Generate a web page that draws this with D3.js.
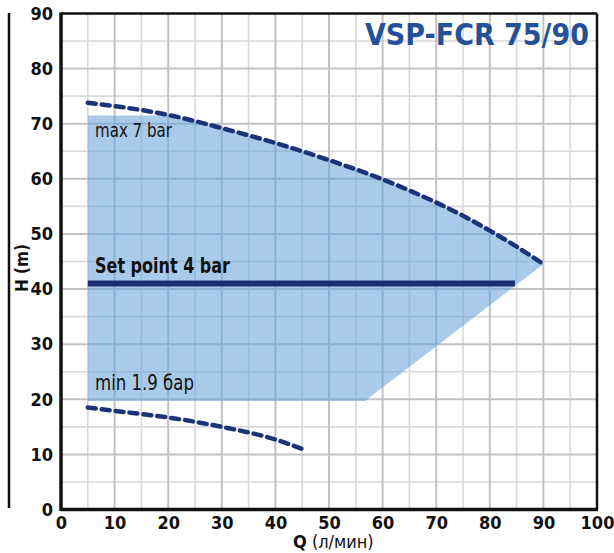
<!DOCTYPE html>
<html><head><meta charset="utf-8">
<script src="https://cdn.jsdelivr.net/npm/d3@7"></script>
<style>
body{margin:0;background:#fff;}
svg{display:block;}
</style></head>
<body><svg id="c" width="614" height="553"></svg>
<script>
const xTicks = [0,10,20,30,40,50,60,70,80,90,100];
const yTicks = [0,10,20,30,40,50,60,70,80,90];
const maxQ = [5,10,20,30,40,50,60,70,75,80,85,90];
const maxH = [73.8,73.2,71.6,69.2,66.5,63.4,59.9,55.7,53.3,50.6,47.7,44.5];
const minQ = [5,10,20,30,40,45];
const minH = [18.5,17.9,16.7,15.0,12.7,11.0];
const areaTopLimit = 71.5;
const areaBottom = [[5,19.7],[56.7,19.7],[90,44.5]];
const setPoint = {qStart:5, qEnd:84.7, h:41};
const title = "VSP-FCR 75/90";
const labels = {max:"max 7 bar", min:"min 1.9 бар", set:"Set point 4 bar", x:"Q", xUnit:" (л/мин)", y:"H (m)"};

const svg = d3.select("#c");
const x = d3.scaleLinear().domain([0,100]).range([61,597]);
const y = d3.scaleLinear().domain([0,90]).range([509.5,13.5]);
const cond = "'Liberation Sans Narrow','DejaVu Sans Condensed','Roboto Condensed','Open Sans Condensed',Roboto,sans-serif";

// grid
const minorX = d3.range(5,100,10), minorY = d3.range(5,90,10);
const g = svg.append("g");
g.selectAll(".mx").data(minorX).join("line").attr("x1",d=>x(d)).attr("x2",d=>x(d)).attr("y1",y(0)).attr("y2",y(90)).attr("stroke","#d9d9db").attr("stroke-width",1.6);
g.selectAll(".my").data(minorY).join("line").attr("y1",d=>y(d)).attr("y2",d=>y(d)).attr("x1",x(0)).attr("x2",x(100)).attr("stroke","#d9d9db").attr("stroke-width",1.6);
g.selectAll(".Mx").data(xTicks.slice(1,-1)).join("line").attr("x1",d=>x(d)).attr("x2",d=>x(d)).attr("y1",y(0)).attr("y2",y(90)).attr("stroke","#c2c2c6").attr("stroke-width",2);
g.selectAll(".My").data(yTicks.slice(1,-1)).join("line").attr("y1",d=>y(d)).attr("y2",d=>y(d)).attr("x1",x(0)).attr("x2",x(100)).attr("stroke","#c2c2c6").attr("stroke-width",2);

// area
const meetIdx = maxH.findIndex(h=>h<areaTopLimit);
const q0 = maxQ[meetIdx-1], q1 = maxQ[meetIdx], h0 = maxH[meetIdx-1], h1 = maxH[meetIdx];
const qMeet = q0 + (h0-areaTopLimit)/(h0-h1)*(q1-q0);
const topEdge = [[areaBottom[0][0], areaTopLimit],[qMeet, areaTopLimit]];
maxQ.forEach((q,i)=>{ if(q>qMeet) topEdge.push([q,maxH[i]]); });
const poly = topEdge.concat(areaBottom.slice().reverse());
svg.append("path").attr("d", d3.line().x(d=>x(d[0])).y(d=>y(d[1]))(poly)+"Z")
  .attr("fill","#66a2d8").attr("fill-opacity",0.56);

// frame
svg.append("line").attr("x1",x(0)).attr("x2",x(100)).attr("y1",y(90)).attr("y2",y(90)).attr("stroke","#111").attr("stroke-width",2.5);
svg.append("line").attr("x1",x(100)).attr("x2",x(100)).attr("y1",y(90)).attr("y2",y(0)).attr("stroke","#111").attr("stroke-width",2.5);
svg.append("line").attr("x1",x(0)).attr("x2",x(100)+1).attr("y1",y(0)).attr("y2",y(0)).attr("stroke","#111").attr("stroke-width",3.5);
svg.append("line").attr("x1",x(0)).attr("x2",x(0)).attr("y1",y(90)-1).attr("y2",y(0)+1.5).attr("stroke","#111").attr("stroke-width",3.5);
svg.append("line").attr("x1",9).attr("x2",9).attr("y1",13).attr("y2",508).attr("stroke","#111").attr("stroke-width",2.5);

// axes labels
const xa = svg.append("g").attr("transform",`translate(0,${y(0)})`).call(d3.axisBottom(x).tickValues(xTicks).tickSize(0).tickPadding(8));
xa.select(".domain").remove();
xa.selectAll("text").attr("font-family",cond).attr("font-weight","bold").attr("font-size",18).attr("fill","#111").attr("dy","0.62em");
const ya = svg.append("g").attr("transform",`translate(${x(0)},0)`).call(d3.axisLeft(y).tickValues(yTicks).tickSize(0).tickPadding(8));
ya.select(".domain").remove();
ya.selectAll("text").attr("font-family",cond).attr("font-weight","bold").attr("font-size",18).attr("fill","#111");

// curves
const line = d3.line().curve(d3.curveMonotoneX);
svg.append("path").attr("d", line(maxQ.map((q,i)=>[x(q),y(maxH[i])])))
  .attr("fill","none").attr("stroke","#1b3378").attr("stroke-width",4.5).attr("stroke-dasharray","8,6").attr("stroke-linecap","round");
svg.append("path").attr("d", line(minQ.map((q,i)=>[x(q),y(minH[i])])))
  .attr("fill","none").attr("stroke","#1b3378").attr("stroke-width",4.5).attr("stroke-dasharray","8,6").attr("stroke-linecap","round");

// set point
svg.append("line").attr("x1",x(setPoint.qStart)).attr("x2",x(setPoint.qEnd)).attr("y1",y(setPoint.h)).attr("y2",y(setPoint.h))
  .attr("stroke","#1d2f72").attr("stroke-width",6);

// texts
svg.append("text").attr("x",95).attr("y",273).text(labels.set).attr("font-family",cond).attr("font-weight","bold").attr("font-size",21).attr("fill","#111").attr("textLength",135).attr("lengthAdjust","spacingAndGlyphs");
svg.append("text").attr("x",95).attr("y",137).text(labels.max).attr("font-family",cond).attr("font-size",19).attr("fill","#111").attr("textLength",77).attr("lengthAdjust","spacingAndGlyphs");
svg.append("text").attr("x",95).attr("y",390).text(labels.min).attr("font-family",cond).attr("font-size",21).attr("fill","#111").attr("textLength",99).attr("lengthAdjust","spacingAndGlyphs");
svg.append("text").attr("x",589).attr("y",45).attr("text-anchor","end").text(title).attr("font-family",cond).attr("font-weight","bold").attr("font-size",31).attr("fill","#24509a").attr("textLength",224).attr("lengthAdjust","spacingAndGlyphs");
const xl = svg.append("text").attr("x",293).attr("y",548).attr("font-family",cond).attr("font-size",18).attr("fill","#111");
xl.append("tspan").attr("font-weight","bold").text(labels.x);
xl.append("tspan").text(labels.xUnit);
svg.append("text").attr("transform","translate(28,268) rotate(-90)").attr("text-anchor","middle").attr("font-family",cond).attr("font-weight","bold").attr("font-size",17).attr("fill","#111").text(labels.y);
</script></body></html>
